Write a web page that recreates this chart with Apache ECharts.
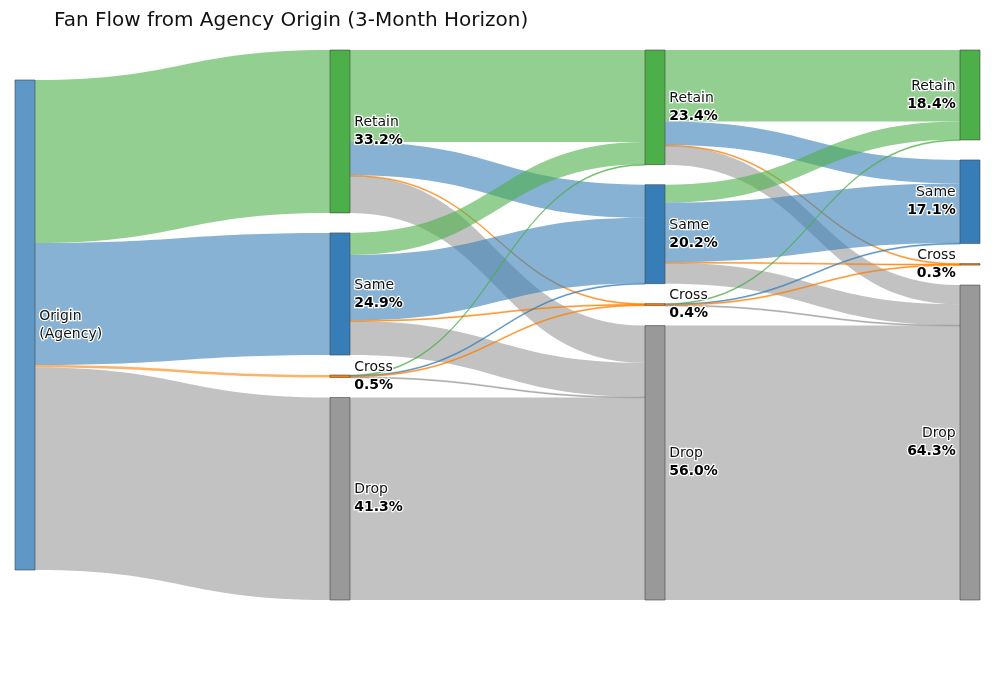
<!DOCTYPE html>
<html>
<head>
<meta charset="utf-8">
<script src="https://cdn.jsdelivr.net/npm/echarts@6/dist/echarts.min.js"></script>
<style>html,body{margin:0;padding:0;background:#fff;}#chart{width:1000px;height:700px;}</style>
</head>
<body>
<div id="chart"></div>
<script>
// ---- data (percent of origin cohort) ----
const titleText = 'Fan Flow from Agency Origin (3-Month Horizon)';
const originName = 'Origin\n(Agency)';
const states = ['Retain', 'Same', 'Cross', 'Drop'];
const months = [1, 2, 3];
// Origin -> month 1 state
const originToM1 = [33.24, 24.93, 0.50, 41.33];
// month 1 state (row) -> month 2 state (column)
const m1ToM2 = [
  [18.80, 6.74, 0.10, 7.60],
  [4.50, 13.36, 0.12, 6.95],
  [0.10, 0.10, 0.18, 0.12],
  [0, 0, 0, 41.33]
];
// month 2 state (row) -> month 3 state (column)
const m2ToM3 = [
  [14.60, 4.80, 0.10, 3.90],
  [3.66, 12.17, 0.10, 4.27],
  [0.10, 0.10, 0.10, 0.10],
  [0, 0, 0, 56.00]
];

// ---- styling ----
const stateColors = ['#4daf4a', '#377eb8', '#ff7f00', '#999999'];
function rgba(hex, a) {
  const n = parseInt(hex.slice(1), 16);
  return 'rgba(' + ((n >> 16) & 255) + ',' + ((n >> 8) & 255) + ',' + (n & 255) + ',' + a + ')';
}
const plotTop = 50, plotBottom = 100, nodeGap = 20;
const plotHeight = 700 - plotTop - plotBottom;
const FONT = 'DejaVu Sans';

// ---- build nodes / links ----
const nodeId = (m, s) => 'M' + m + '_' + states[s];
const pct = {};
const nodes = [];
const links = [];
nodes.push({
  name: 'Origin',
  localY: (3 * nodeGap) / (2 * plotHeight),
  itemStyle: { color: rgba('#377eb8', 0.8) },
  label: { position: 'right', formatter: '{n|' + originName.split('\n').join('}\n{n|') + '}' }
});
months.forEach(function (m) {
  states.forEach(function (s, si) {
    nodes.push({
      name: nodeId(m, si),
      itemStyle: { color: stateColors[si] },
      label: m === months.length ? { position: 'left', align: 'right' } : { position: 'right' }
    });
  });
});
function addLink(src, tgt, v, si) {
  if (!v) return;
  pct[tgt] = (pct[tgt] || 0) + v;
  const thin = v <= 0.2;
  links.push({
    source: src, target: tgt, value: v,
    lineStyle: thin
      ? { color: rgba(stateColors[si], 0.75), opacity: 1, borderColor: rgba(stateColors[si], 0.75), borderWidth: 0.6 }
      : { color: rgba(stateColors[si], 0.6), opacity: 1 }
  });
}
originToM1.forEach(function (v, j) { addLink('Origin', nodeId(1, j), v, j); });
m1ToM2.forEach(function (row, i) { row.forEach(function (v, j) { addLink(nodeId(1, i), nodeId(2, j), v, j); }); });
m2ToM3.forEach(function (row, i) { row.forEach(function (v, j) { addLink(nodeId(2, i), nodeId(3, j), v, j); }); });

nodes.forEach(function (n) {
  if (n.name === 'Origin') return;
  const st = n.name.split('_')[1];
  n.label.formatter = '{n|' + st + '}\n{p|' + pct[n.name].toFixed(1) + '%}';
});

const chart = echarts.init(document.getElementById('chart'), null, { renderer: 'canvas' });
chart.setOption({
  animation: false,
  backgroundColor: '#ffffff',
  title: {
    text: titleText,
    left: 49, top: 6,
    textStyle: { fontFamily: FONT, fontSize: 20, fontWeight: 'normal', color: '#111' }
  },
  series: [{
    type: 'sankey',
    left: 15, right: 20, top: plotTop, bottom: plotBottom,
    nodeWidth: 20, nodeGap: nodeGap,
    layoutIterations: 0,
    draggable: false,
    emphasis: { disabled: true },
    data: nodes,
    links: links,
    itemStyle: { borderColor: '#444', borderWidth: 0.6 },
    label: {
      distance: 4,
      fontFamily: FONT,
      color: '#111',
      textBorderColor: '#fff',
      textBorderWidth: 2.5,
      rich: {
        n: { fontFamily: FONT, fontSize: 14, lineHeight: 18, color: '#111', textBorderColor: '#fff', textBorderWidth: 2.5 },
        p: { fontFamily: FONT, fontSize: 14, lineHeight: 18, fontWeight: 'bold', color: '#000', textBorderColor: '#fff', textBorderWidth: 2.5 }
      }
    },
    lineStyle: { curveness: 0.5 }
  }]
});
</script>
</body>
</html>
